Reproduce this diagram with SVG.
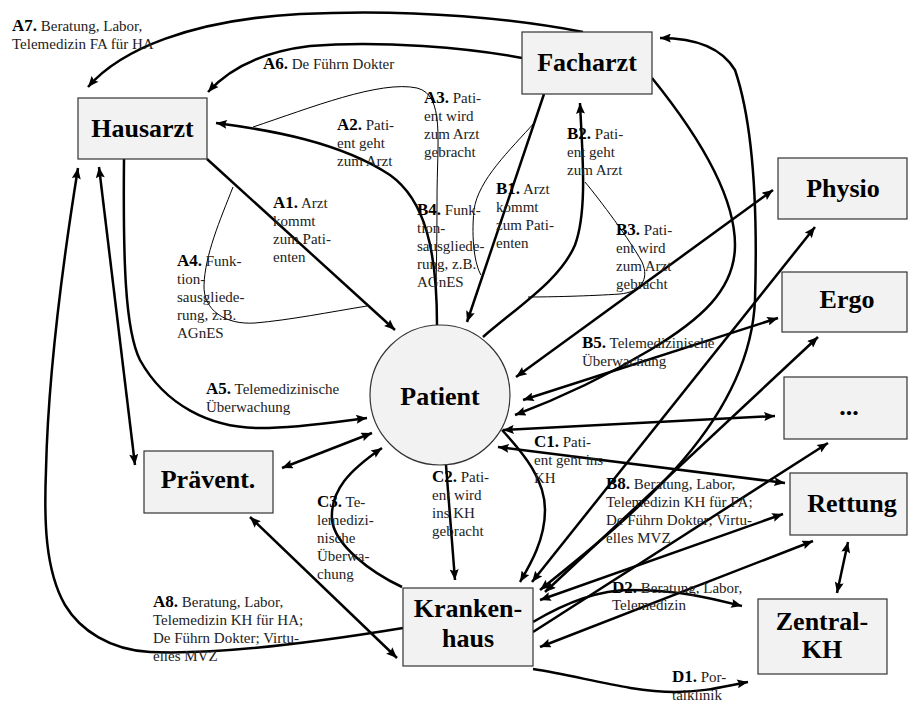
<svg xmlns="http://www.w3.org/2000/svg" width="908" height="704" viewBox="0 0 908 704">
<defs>
<marker id="ah" viewBox="0 0 12 10" refX="12" refY="5" markerWidth="12" markerHeight="9" orient="auto-start-reverse" markerUnits="userSpaceOnUse"><path d="M0,0 L12,5 L0,10 L2,5 z" fill="#000"/></marker>
<style>
.box{fill:#f2f2f2;stroke:#333;stroke-width:1.2}
.ttl{font-family:"Liberation Serif","Times New Roman",serif;font-weight:bold;font-size:26px;text-anchor:middle;fill:#000}
.lbl{font-family:"Liberation Serif","Times New Roman",serif;font-size:15px;fill:#222}
.b{font-weight:bold;font-size:17px;fill:#000}
.th{fill:none;stroke:#000;stroke-width:2.5}
.tn{fill:none;stroke:#000;stroke-width:1}
.e{marker-end:url(#ah)}
.s{marker-start:url(#ah)}
</style>
</defs>
<g id="connectors">
<path class="th e" d="M583,32 C520,20 420,8 300,14 C190,20 120,50 88,87"/>
<path class="th e" d="M522,58 C470,48 380,40 310,46 C260,52 228,70 208,92"/>
<path class="th e" d="M437,325 C437,250 425,200 390,175 C340,142 270,130 216,123"/>
<path class="tn" d="M253,127 C310,108 380,80 417,88 C445,95 437,140 437,200 C437,250 436,280 436,300"/>
<path class="th e" d="M207,159 L395,330"/>
<path class="tn" d="M233,187 C220,220 205,255 204,285 C203,310 225,325 255,323 C290,320 330,312 367,306"/>
<path class="th e" d="M544,94 L467,322"/>
<path class="tn" d="M535,122 C510,150 478,180 474,210 C471,240 475,265 481,275"/>
<path class="th e" d="M483,337 C520,305 560,280 575,245 C588,210 582,150 580,103"/>
<path class="tn" d="M585,182 C600,200 630,240 642,262 C650,280 640,292 620,294 C590,296 550,297 528,297"/>
<path class="th e s" d="M372,433 L282,468"/>
<path class="th e s" d="M99,167 L135,465"/>
<path class="th e" d="M124,159 C123,260 125,330 140,360 C165,405 210,428 260,428 C300,428 335,422 367,418"/>
<path class="th e" d="M403,628 C330,640 220,655 150,652 C110,650 80,630 65,605 C45,570 44,520 46,470 C48,380 60,280 78,168"/>
<path class="th e" d="M446,465 L455,580"/>
<path class="th e" d="M502,430 C525,455 545,480 545,510 C545,540 530,565 520,582"/>
<path class="th e" d="M402,587 C370,572 335,545 332,520 C330,490 350,470 382,448"/>
<path class="th e s" d="M250,517 L397,658"/>
<path class="th e" d="M533,669 C580,676 630,692 675,692 C705,692 725,686 748,682"/>
<path class="th e" d="M533,622 C570,600 600,590 630,590 C680,590 710,598 742,606"/>
<path class="th e" d="M533,632 L828,443"/>
<path class="th e s" d="M540,600 L783,514"/>
<path class="th e s" d="M540,647 L813,541"/>
<path class="th e s" d="M532,582 L815,227"/>
<path class="th e s" d="M545,592 L818,337"/>
<path class="th e s" d="M516,377 L773,190"/>
<path class="th e s" d="M523,400 L778,318"/>
<path class="th e s" d="M503,430 L775,416"/>
<path class="th e s" d="M498,447 L785,483"/>
<path class="th e" d="M652,78 C690,125 735,190 735,245 C735,290 700,320 650,350 C600,380 560,398 515,415"/>
<path class="th e s" d="M540,590 C640,510 750,420 755,300 C758,200 752,120 735,70 C720,45 690,38 660,38"/>
<path class="th e s" d="M848,542 L837,593"/>
</g>
<g id="hausarzt"><rect class="box" x="78" y="98" width="129" height="61"/><text class="ttl" x="142.5" y="137">Hausarzt</text></g>
<g id="facharzt"><rect class="box" x="522" y="32" width="130" height="62"/><text class="ttl" x="587" y="71">Facharzt</text></g>
<g id="physio"><rect class="box" x="778" y="158" width="129" height="61"/><text class="ttl" x="843" y="197">Physio</text></g>
<g id="ergo"><rect class="box" x="782" y="272" width="125" height="60"/><text class="ttl" x="847" y="308">Ergo</text></g>
<g id="etc"><rect class="box" x="784" y="377" width="123" height="62"/><text class="ttl" x="849" y="415">...</text></g>
<g id="rettung"><rect class="box" x="790" y="473" width="117" height="62"/><text class="ttl" x="852" y="512">Rettung</text></g>
<g id="zentralkh"><rect class="box" x="758" y="599" width="129" height="75"/><text class="ttl" x="822" y="630">Zentral-</text><text class="ttl" x="822" y="658">KH</text></g>
<g id="krankenhaus"><rect class="box" x="403" y="588" width="130" height="78"/><text class="ttl" x="468" y="617">Kranken-</text><text class="ttl" x="468" y="647">haus</text></g>
<g id="praevent"><rect class="box" x="144" y="451" width="129" height="62"/><text class="ttl" x="208" y="488">Prävent.</text></g>
<g id="patient"><circle cx="440" cy="395" r="70" fill="#f2f2f2" stroke="#333" stroke-width="1.2"/><text class="ttl" x="440" y="405">Patient</text></g>
<g id="labels" class="lbl">
<text x="12" y="31"><tspan class="b">A7.</tspan> Beratung, Labor,<tspan x="12" y="49">Telemedizin FA für HA</tspan></text>
<text x="263" y="69"><tspan class="b">A6.</tspan> De Führn Dokter</text>
<text x="337" y="130"><tspan class="b">A2.</tspan> Pati-<tspan x="337" y="148">ent geht</tspan><tspan x="337" y="166">zum Arzt</tspan></text>
<text x="424" y="103"><tspan class="b">A3.</tspan> Pati-<tspan x="424" y="121">ent wird</tspan><tspan x="424" y="139">zum Arzt</tspan><tspan x="424" y="157">gebracht</tspan></text>
<text x="417" y="215"><tspan class="b">B4.</tspan> Funk-<tspan x="417" y="233">tion-</tspan><tspan x="417" y="251">sausgliede-</tspan><tspan x="417" y="269">rung, z.B.</tspan><tspan x="417" y="287">AGnES</tspan></text>
<text x="496" y="194"><tspan class="b">B1.</tspan> Arzt<tspan x="496" y="212">kommt</tspan><tspan x="496" y="230">zum Pati-</tspan><tspan x="496" y="248">enten</tspan></text>
<text x="567" y="139"><tspan class="b">B2.</tspan> Pati-<tspan x="567" y="157">ent geht</tspan><tspan x="567" y="175">zum Arzt</tspan></text>
<text x="616" y="235"><tspan class="b">B3.</tspan> Pati-<tspan x="616" y="253">ent wird</tspan><tspan x="616" y="271">zum Arzt</tspan><tspan x="616" y="289">gebracht</tspan></text>
<text x="273" y="208"><tspan class="b">A1.</tspan> Arzt<tspan x="273" y="226">kommt</tspan><tspan x="273" y="244">zum Pati-</tspan><tspan x="273" y="262">enten</tspan></text>
<text x="177" y="266"><tspan class="b">A4.</tspan> Funk-<tspan x="177" y="284">tion-</tspan><tspan x="177" y="302">sausgliede-</tspan><tspan x="177" y="320">rung, z.B.</tspan><tspan x="177" y="338">AGnES</tspan></text>
<text x="206" y="394"><tspan class="b">A5.</tspan> Telemedizinische<tspan x="206" y="412">Überwachung</tspan></text>
<text x="582" y="348"><tspan class="b">B5.</tspan> Telemedizinische<tspan x="582" y="366">Überwachung</tspan></text>
<text x="534" y="447"><tspan class="b">C1.</tspan> Pati-<tspan x="534" y="465">ent geht ins</tspan><tspan x="534" y="483">KH</tspan></text>
<text x="432" y="482"><tspan class="b">C2.</tspan> Pati-<tspan x="432" y="500">ent wird</tspan><tspan x="432" y="518">ins KH</tspan><tspan x="432" y="536">gebracht</tspan></text>
<text x="317" y="507"><tspan class="b">C3.</tspan> Te-<tspan x="317" y="525">lemedizi-</tspan><tspan x="317" y="543">nische</tspan><tspan x="317" y="561">Überwa-</tspan><tspan x="317" y="579">chung</tspan></text>
<text x="606" y="489"><tspan class="b">B8.</tspan> Beratung, Labor,<tspan x="606" y="507">Telemedizin KH für FA;</tspan><tspan x="606" y="525">De Führn Dokter; Virtu-</tspan><tspan x="606" y="543">elles MVZ</tspan></text>
<text x="153" y="607"><tspan class="b">A8.</tspan> Beratung, Labor,<tspan x="153" y="625">Telemedizin KH für HA;</tspan><tspan x="153" y="643">De Führn Dokter; Virtu-</tspan><tspan x="153" y="661">elles MVZ</tspan></text>
<text x="612" y="593"><tspan class="b">D2.</tspan> Beratung, Labor,<tspan x="612" y="610">Telemedizin</tspan></text>
<text x="672" y="682"><tspan class="b">D1.</tspan> Por-<tspan x="672" y="700">talklinik</tspan></text>
</g>
</svg>
